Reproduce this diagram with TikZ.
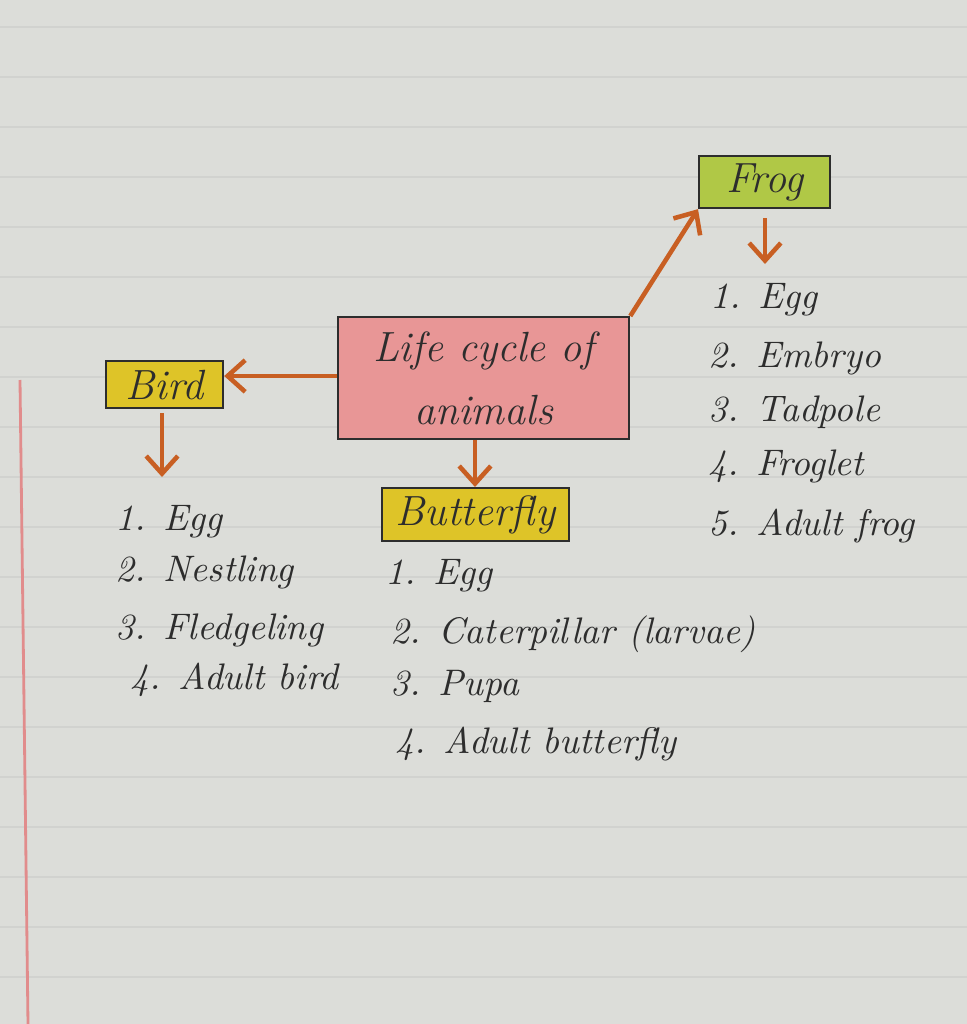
\documentclass[tikz,border=0pt]{standalone}
\usetikzlibrary{arrows.meta}
\definecolor{paper}{RGB}{220,221,217}
\definecolor{rule}{RGB}{209,210,207}
\definecolor{margin}{RGB}{225,140,140}
\definecolor{pinkfill}{RGB}{232,150,150}
\definecolor{yelfill}{RGB}{222,196,40}
\definecolor{grnfill}{RGB}{176,200,70}
\definecolor{arr}{RGB}{200,95,35}
\definecolor{ink}{RGB}{45,45,45}
\tikzset{
  box/.style={draw=ink, line width=0.6pt, inner sep=0pt, anchor=north west},
  lab/.style={text=ink, font=\fontsize{12}{14}\selectfont\itshape},
  item/.style={text=ink, anchor=west, font=\fontsize{10.5}{12}\selectfont\itshape, inner sep=0pt},
  conn/.style={draw=arr, line width=1.3pt, -{Straight Barb[length=5pt,width=9pt]}}
}
\begin{document}
\begin{tikzpicture}[x=0.01cm,y=-0.01cm]
\fill[paper] (0,0) rectangle (967,1024);
\useasboundingbox (0,0) rectangle (967,1024);
\foreach \yy in {27,77,...,1024} \draw[rule, line width=0.4pt] (0,\yy) -- (967,\yy);
\draw[margin, line width=0.8pt] (20,380) -- (28,1024);
% boxes
\node[box, fill=pinkfill, minimum width=2.91cm, minimum height=1.22cm] (life) at (337,316) {};
\node[lab, align=center] at (life.center) {Life cycle of\\[4pt]animals};
\node[box, fill=yelfill, minimum width=1.17cm, minimum height=0.47cm] (bird) at (105,360) {};
\node[lab] at (bird.center) {Bird};
\node[box, fill=yelfill, minimum width=1.87cm, minimum height=0.53cm] (bfly) at (381,487) {};
\node[lab] at (bfly.center) {Butterfly};
\node[box, fill=grnfill, minimum width=1.31cm, minimum height=0.52cm] (frog) at (698,155) {};
\node[lab] at (frog.center) {Frog};
% arrow end coordinates
\coordinate (bd1) at (162,413);
\coordinate (bd2) at (162,477);
\coordinate (fd1) at (765,218);
\coordinate (fd2) at (765,264);
% connectors
\draw[conn] (life.west |- 0,376) -- (bird.east |- 0,376);
\draw[conn] (life.south -| 475,0) -- (bfly.north -| 475,0);
\draw[conn] (life.north east) -- (frog.south west);
\draw[conn] (bd1) -- (bd2);
\draw[conn] (fd1) -- (fd2);
% lists
\node[item] (b1) at (115,522) {1. Egg};
\node[item] (b2) at (115,572) {2. Nestling};
\node[item] (b3) at (115,630) {3. Fledgeling};
\node[item] (b4) at (130,680) {4. Adult bird};
\node[item] (u1) at (385,576) {1. Egg};
\node[item] (u2) at (390,634) {2. Caterpillar (larvae)};
\node[item] (u3) at (390,686) {3. Pupa};
\node[item] (u4) at (395,744) {4. Adult butterfly};
\node[item] (f1) at (710,300) {1. Egg};
\node[item] (f2) at (708,358) {2. Embryo};
\node[item] (f3) at (708,412) {3. Tadpole};
\node[item] (f4) at (708,466) {4. Froglet};
\node[item] (f5) at (708,526) {5. Adult frog};
\end{tikzpicture}
\end{document}
